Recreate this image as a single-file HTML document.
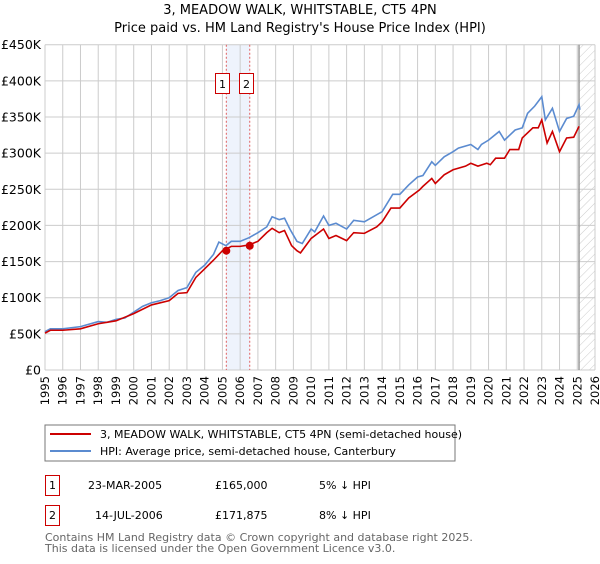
<!DOCTYPE html>
<html><head><meta charset="utf-8"><style>
body{margin:0;background:#fff;width:600px;height:560px;overflow:hidden;font-family:"DejaVu Sans","Liberation Sans",sans-serif}
svg text{font-family:"DejaVu Sans","Liberation Sans",sans-serif}
</style></head><body>
<svg id="c" width="600" height="560" xmlns="http://www.w3.org/2000/svg">
<defs><pattern id="hatch" width="6" height="6" patternUnits="userSpaceOnUse" patternTransform="rotate(45)"><line x1="0" y1="0" x2="0" y2="6" stroke="#ccc" stroke-width="1"/></pattern></defs>
<text x="300" y="14" text-anchor="middle" font-size="13">3, MEADOW WALK, WHITSTABLE, CT5 4PN</text>
<text x="300" y="32" text-anchor="middle" font-size="13">Price paid vs. HM Land Registry's House Price Index (HPI)</text>
<g id="grid"></g>
<g id="marks"></g>
<rect x="45" y="425" width="410" height="36" fill="#fff" stroke="#777"/>
<line x1="50" y1="434" x2="91" y2="434" stroke="#cc0000" stroke-width="2"/>
<text x="100" y="438" font-size="11">3, MEADOW WALK, WHITSTABLE, CT5 4PN (semi-detached house)</text>
<line x1="50" y1="451" x2="91" y2="451" stroke="#5b8bd0" stroke-width="2"/>
<text x="100" y="455" font-size="11">HPI: Average price, semi-detached house, Canterbury</text>
<g>
<rect x="45.5" y="475.5" width="14" height="20" fill="none" stroke="#cc0000"/>
<text x="52.5" y="489" font-size="11" text-anchor="middle">1</text>
<text x="88" y="489" font-size="11">23-MAR-2005</text>
<text x="215" y="489" font-size="11">£165,000</text>
<text x="319" y="489" font-size="11">5% ↓ HPI</text></g>
<g>
<rect x="45.5" y="505.5" width="14" height="20" fill="none" stroke="#cc0000"/>
<text x="52.5" y="519" font-size="11" text-anchor="middle">2</text>
<text x="95" y="519" font-size="11">14-JUL-2006</text>
<text x="215" y="519" font-size="11">£171,875</text>
<text x="319" y="519" font-size="11">8% ↓ HPI</text></g>
<text x="45" y="541" font-size="11" fill="#666">Contains HM Land Registry data © Crown copyright and database right 2025.</text>
<text x="45" y="552" font-size="11" fill="#666">This data is licensed under the Open Government Licence v3.0.</text>
</svg>
<script>
const hpiYears=[1995,1995.3,1996,1997,1998,1998.5,1999,1999.5,2000,2000.5,2001,2001.5,2002,2002.5,2003,2003.5,2004,2004.5,2004.8,2005.2,2005.5,2006,2006.5,2007,2007.5,2007.8,2008.2,2008.5,2008.8,2009.2,2009.5,2010,2010.2,2010.7,2011,2011.4,2012,2012.4,2013,2014,2014.6,2015,2015.5,2016,2016.3,2016.8,2017,2017.5,2018,2018.3,2019,2019.4,2019.6,2020,2020.6,2020.9,2021.5,2021.9,2022.2,2022.6,2023,2023.2,2023.6,2024,2024.4,2024.8,2025.1,2025.15];
const hpiValues=[53000,57000,57000,60000,67000,66000,70000,72000,80000,88000,93000,96000,100000,110000,114000,135000,145000,160000,177000,172000,178000,178000,183000,190000,198000,212000,208000,210000,195000,178000,175000,195000,191000,213000,200000,203000,195000,207000,205000,219000,243000,243000,256000,267000,269000,288000,283000,295000,302000,307000,312000,305000,312000,318000,330000,318000,332000,335000,355000,365000,378000,346000,362000,330000,348000,351000,367000,360000];
const ppYears=[1995,1995.3,1996,1997,1998,1999,2000,2001,2002,2002.5,2003,2003.5,2004,2004.5,2005,2005.5,2006,2006.5,2007,2007.5,2007.8,2008.2,2008.5,2008.9,2009.2,2009.4,2010,2010.7,2011,2011.4,2012,2012.4,2013,2013.7,2014,2014.5,2015,2015.5,2016.1,2016.3,2016.8,2017,2017.5,2018,2018.7,2019,2019.4,2019.9,2020.1,2020.4,2020.9,2021.2,2021.7,2021.9,2022.5,2022.8,2023,2023.3,2023.6,2024,2024.4,2024.8,2025.1];
const ppValues=[51000,55000,55000,57000,64000,68000,78000,90000,96000,106000,107000,128000,140000,152000,165000,171000,171000,173000,178000,190000,196000,190000,193000,172000,165000,162000,182000,195000,182000,186000,179000,190000,189000,198000,205000,224000,224000,238000,249000,254000,265000,258000,270000,277000,282000,286000,282000,286000,284000,293000,293000,305000,305000,321000,335000,335000,346000,314000,330000,302000,321000,322000,337000];
const sales=[[2005.22,165000],[2006.54,171875]];
const yTicks=[0,50000,100000,150000,200000,250000,300000,350000,400000,450000];
const yLabels=["£0","£50K","£100K","£150K","£200K","£250K","£300K","£350K","£400K","£450K"];
const xTicks=[1995,1996,1997,1998,1999,2000,2001,2002,2003,2004,2005,2006,2007,2008,2009,2010,2011,2012,2013,2014,2015,2016,2017,2018,2019,2020,2021,2022,2023,2024,2025,2026];
const X0=45,X1=595,Y0=370,Y1=44.7;
const xs=y=>X0+(y-1995)/(2026-1995)*(X1-X0);
const ys=v=>Y0-v/450000*(Y0-Y1);
const NS="http://www.w3.org/2000/svg";
function mk(p,t,a){const e=document.createElementNS(NS,t);for(const k in a)e.setAttribute(k,a[k]);p.appendChild(e);return e;}
const g=document.getElementById('grid'),m=document.getElementById('marks');
// shaded band
let band=mk(g,'rect',{x:xs(sales[0][0]),y:Y1,width:xs(sales[1][0])-xs(sales[0][0]),height:Y0-Y1,fill:'#eef3fc'});


xTicks.forEach((t,i)=>{
  const l=mk(g,'line',{x1:xs(t),x2:xs(t),y1:Y1,y2:Y0,stroke:'#ccc'});
  
  
  const tx=mk(g,'text',{x:0,y:0,'font-size':11.5,'text-anchor':'end',transform:`translate(${xs(t)+4},${Y0+6}) rotate(-90)`});
  tx.textContent=t;
  
  
});
yTicks.forEach((t,i)=>{
  const l=mk(g,'line',{x1:X0,x2:X1,y1:ys(t),y2:ys(t),stroke:'#ccc'});
  
  
  const tx=mk(g,'text',{x:X0-4,y:ys(t)+4.5,'font-size':12.5,'text-anchor':'end'});
  tx.textContent=yLabels[i];
  
  
});
const hx=xs(2025.1);
const hatch=mk(g,'rect',{x:hx,y:Y1,width:X1-hx,height:Y0-Y1,fill:'url(#hatch)'});


const hl=mk(g,'line',{x1:hx,x2:hx,y1:Y1,y2:Y0,stroke:'#999','stroke-width':1.5});


sales.forEach((s,i)=>{
  const l=mk(m,'line',{x1:xs(s[0]),x2:xs(s[0]),y1:Y1,y2:Y0,stroke:'#e06060','stroke-dasharray':'2,2'});
  
  
});
const hp=mk(m,'polyline',{points:hpiYears.map((y,i)=>xs(y)+','+ys(hpiValues[i])).join(' '),fill:'none',stroke:'#5b8bd0','stroke-width':1.6});


const pp=mk(m,'polyline',{points:ppYears.map((y,i)=>xs(y)+','+ys(ppValues[i])).join(' '),fill:'none',stroke:'#cc0000','stroke-width':1.6});


sales.forEach((s,i)=>{
  const c=mk(m,'circle',{cx:xs(s[0]),cy:ys(s[1]),r:4,fill:'#cc0000'});
  
  
  const bx=xs(s[0])-(i==0?7:-3)-7;
  const r=mk(m,'rect',{x:i==0?215.5:239.5,y:73.5,width:14,height:20,fill:'#fff',stroke:'#cc0000'});
  
  
  const t=mk(m,'text',{x:(i==0?215.5:239.5)+7,y:88,'font-size':11,'text-anchor':'middle'});
  t.textContent=String(i+1);
  
  
});
</script>
</body></html>
